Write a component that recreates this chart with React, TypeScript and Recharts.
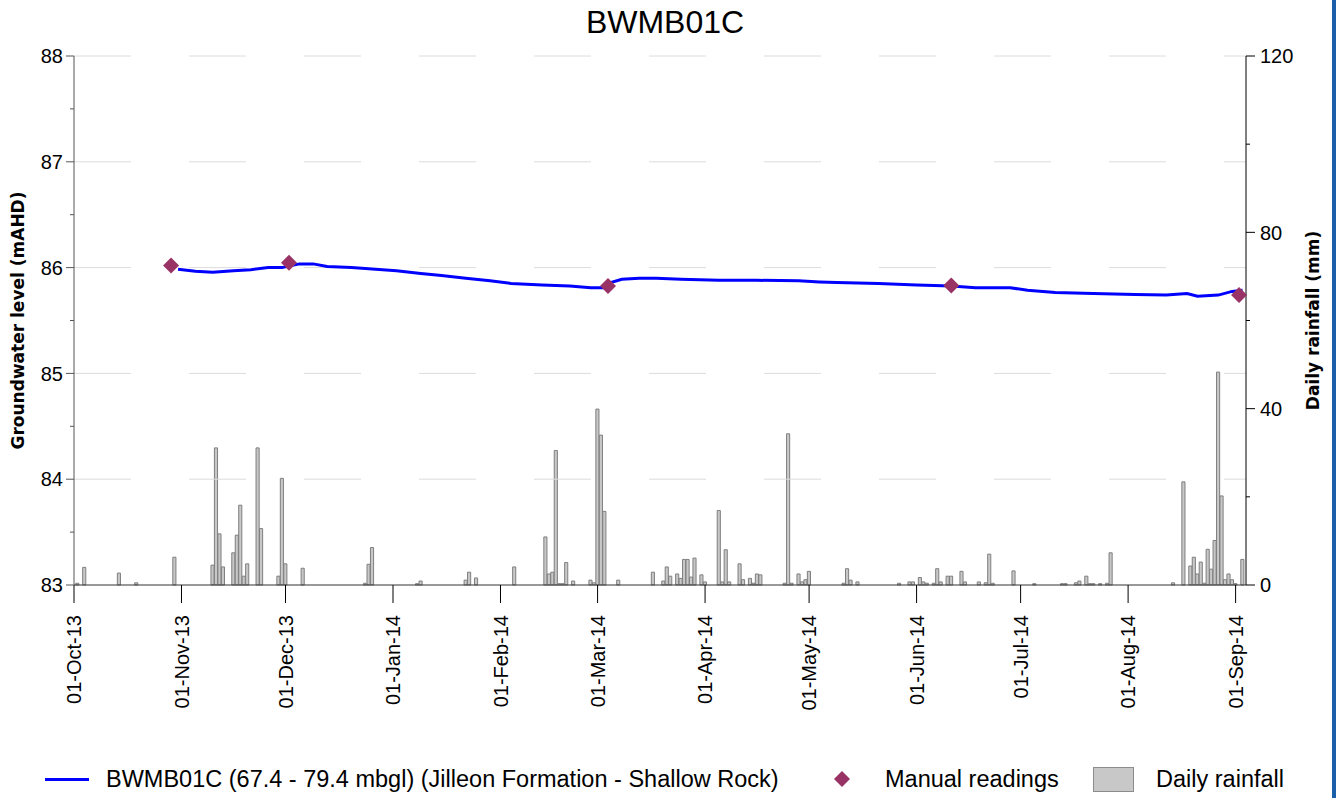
import React from 'react';
import { ComposedChart, Bar, Line, Scatter, XAxis, YAxis, ReferenceLine } from 'recharts';

// x values are days counted from 01-Oct-13 (day 0)
const monthTicks = [0, 31, 61, 92, 123, 151, 182, 212, 243, 273, 304, 335];
const monthLabels = [
  '01-Oct-13', '01-Nov-13', '01-Dec-13', '01-Jan-14', '01-Feb-14', '01-Mar-14',
  '01-Apr-14', '01-May-14', '01-Jun-14', '01-Jul-14', '01-Aug-14', '01-Sep-14',
];

const levelTicks = [83, 83.5, 84, 84.5, 85, 85.5, 86, 86.5, 87, 87.5, 88];
const rainTicks = [0, 20, 40, 60, 80, 100, 120];
const gridLevels = [84, 85, 86, 87, 88];

// daily rainfall (mm)
const rainDays = [
  1, 3, 13, 18, 29, 40, 41, 42, 43, 46, 47, 48, 49, 50, 53, 54, 59, 60, 61, 66,
  84, 85, 86, 99, 100, 113, 114, 116, 127, 136, 137, 138, 139, 140, 141, 142, 144,
  149, 150, 151, 152, 153, 157, 167, 170, 171, 172, 174, 175, 176, 177, 178, 179,
  181, 182, 186, 187, 188, 189, 192, 193, 195, 196, 197, 198, 205, 206, 207, 209,
  210, 211, 212, 222, 223, 224, 226, 238, 241, 242, 244, 245, 246, 248, 249, 250,
  252, 253, 256, 257, 261, 263, 264, 265, 271, 277, 285, 286, 289, 290, 292, 293,
  294, 296, 298, 299, 317, 320, 322, 323, 324, 325, 326, 327, 328, 329, 330, 331,
  332, 333, 334, 335, 337,
];
const rainMm = [
  0.4, 4.0, 2.7, 0.5, 6.3, 4.5, 31.1, 11.6, 4.1, 7.3, 11.3, 18.1, 2.0, 4.8, 31.1, 12.8, 2.0, 24.2, 4.8, 3.8,
  0.4, 4.7, 8.5, 0.3, 0.9, 1.1, 2.9, 1.6, 4.1, 10.9, 2.5, 2.9, 30.5, 0.3, 0.3, 5.1, 0.9,
  1.1, 0.5, 39.9, 34.0, 16.7, 1.1, 2.9, 0.9, 4.1, 2.0, 2.5, 1.5, 5.8, 5.8, 1.8, 6.1,
  2.3, 0.7, 16.9, 0.7, 8.0, 0.7, 4.8, 1.2, 1.5, 0.4, 2.5, 2.3, 0.4, 34.3, 0.4, 2.5,
  0.7, 1.2, 3.1, 0.4, 3.7, 1.1, 0.7, 0.4, 0.7, 0.7, 1.7, 0.7, 0.4, 0.4, 3.7, 0.7,
  2.0, 2.0, 3.1, 0.7, 0.7, 0.5, 7.0, 0.4, 3.2, 0.3, 0.3, 0.3, 0.5, 0.9, 2.0, 0.3,
  0.3, 0.3, 0.4, 7.3, 0.5, 23.4, 4.3, 6.3, 2.5, 5.2, 0.4, 8.1, 3.6, 10.1, 48.3, 20.2,
  1.2, 2.5, 1.2, 0.3, 5.8,
];

// logger groundwater level (mAHD)
const levelDays = [
  30, 35, 40, 46, 51, 56, 60, 65, 69, 73, 80, 87, 93, 100, 106, 113, 120, 126, 135,
  143, 149, 153, 155, 158, 163, 168, 175, 186, 197, 209, 215, 220, 232, 243, 253,
  260, 270, 275, 283, 294, 306, 315, 321, 324, 330, 334, 337,
];
const levelValues = [
  85.985, 85.965, 85.955, 85.97, 85.98, 86.0, 86.0, 86.035, 86.035, 86.01, 86.0, 85.985, 85.97, 85.945, 85.925, 85.9, 85.875, 85.85, 85.835,
  85.825, 85.81, 85.81, 85.86, 85.89, 85.9, 85.9, 85.89, 85.88, 85.88, 85.875, 85.865, 85.86, 85.85, 85.835, 85.825,
  85.81, 85.81, 85.785, 85.765, 85.755, 85.745, 85.74, 85.755, 85.73, 85.74, 85.775, 85.785,
];

// manual readings (mAHD)
const manualDays = [28, 62, 154, 253, 336];
const manualValues = [86.02, 86.045, 85.825, 85.83, 85.74];

const rainData = rainDays.map((d, i) => ({ day: d, rain: rainMm[i] }));
const levelData = levelDays.map((d, i) => ({ day: d, level: levelValues[i] }));
const manualData = manualDays.map((d, i) => ({ day: d, manual: manualValues[i] }));

const BLUE = '#0000ff';
const MAROON = '#993366';
const tickFont = { fontFamily: 'Liberation Sans, Arial, sans-serif', fontSize: 20, fill: '#000' };
const titleFont = { fontFamily: 'DejaVu Sans, Tahoma, sans-serif', fontSize: 17, fontWeight: 700, fill: '#000' };

const renderLeftTick = (props: any) => {
  const { x, y, payload } = props;
  const major = Number.isInteger(payload.value);
  return (
    <g>
      <line x1={x - (major ? 8 : 4)} x2={x} y1={y} y2={y} stroke="#555" />
      {major && (
        <text x={x - 11} y={y} dy="0.36em" textAnchor="end" {...tickFont}>
          {payload.value}
        </text>
      )}
    </g>
  );
};

const renderRightTick = (props: any) => {
  const { x, y, payload } = props;
  const major = payload.value % 40 === 0;
  return (
    <g>
      <line x1={x} x2={x + (major ? 9 : 4)} y1={y} y2={y} stroke="#000" />
      {major && (
        <text x={x + 14} y={y} dy="0.36em" textAnchor="start" {...tickFont}>
          {payload.value}
        </text>
      )}
    </g>
  );
};

const renderBottomTick = (props: any) => {
  const { x, y, payload, index } = props;
  const ty = y + 30;
  return (
    <g>
      <line x1={x} x2={x} y1={y} y2={y + 18} stroke="#000" />
      <text x={x} y={ty} dy="0.36em" textAnchor="end" transform={`rotate(-90, ${x}, ${ty})`} {...tickFont}>
        {monthLabels[index] ?? ''}
      </text>
    </g>
  );
};

const Diamond = (props: any) => {
  const { cx, cy } = props;
  const r = 8;
  return <polygon points={`${cx},${cy - r} ${cx + r},${cy} ${cx},${cy + r} ${cx - r},${cy}`} fill={MAROON} />;
};

const legendText: React.CSSProperties = {
  position: 'absolute', top: 766, lineHeight: '27px', whiteSpace: 'nowrap',
  fontFamily: 'Liberation Sans, Arial, sans-serif', fontSize: 23.5, color: '#000',
};

const App: React.FC = () => {
  return (
    <div style={{ position: 'relative', width: 1338, height: 798, background: '#fff', overflow: 'hidden' }}>
      <style>{'body{margin:0}'}</style>
      <div
        style={{
          position: 'absolute', left: 0, width: 1330, top: 4, textAlign: 'center',
          fontFamily: 'Liberation Sans, Arial, sans-serif', fontSize: 32, lineHeight: '36px', color: '#000',
        }}
      >
        BWMB01C
      </div>
      <ComposedChart
        width={1338}
        height={798}
        data={rainData}
        margin={{ top: 56, right: 0, bottom: 73, left: 0 }}
      >
        <XAxis
          dataKey="day"
          type="number"
          domain={[0, 338]}
          ticks={monthTicks}
          interval={0}
          height={140}
          tickSize={0}
          tickMargin={0}
          tick={renderBottomTick}
          axisLine={{ stroke: '#333' }}
          tickLine={false}
        />
        <YAxis
          yAxisId="left"
          orientation="left"
          domain={[83, 88]}
          ticks={levelTicks}
          interval={0}
          width={74}
          tickSize={0}
          tickMargin={0}
          tick={renderLeftTick}
          tickLine={false}
          axisLine={{ stroke: '#555' }}
          label={{
            content: (p: any) => {
              const vb = p.viewBox;
              const cx = vb.x + 18;
              const cy = vb.y + vb.height / 2;
              return (
                <text x={cx} y={cy} dy="0.36em" textAnchor="middle" transform={`rotate(-90, ${cx}, ${cy})`} {...titleFont}>
                  Groundwater level (mAHD)
                </text>
              );
            },
          }}
        />
        <YAxis
          yAxisId="right"
          orientation="right"
          domain={[0, 120]}
          ticks={rainTicks}
          interval={0}
          width={92}
          tickSize={0}
          tickMargin={0}
          tick={renderRightTick}
          tickLine={false}
          axisLine={{ stroke: '#000' }}
          label={{
            content: (p: any) => {
              const vb = p.viewBox;
              const cx = vb.x + vb.width - 25;
              const cy = vb.y + vb.height / 2;
              return (
                <text x={cx} y={cy} dy="0.36em" textAnchor="middle" transform={`rotate(-90, ${cx}, ${cy})`} {...titleFont}>
                  Daily rainfall (mm)
                </text>
              );
            },
          }}
        />
        {gridLevels.map((v) => (
          <ReferenceLine key={v} yAxisId="left" y={v} stroke="#dcdcdc" strokeDasharray="57 58" />
        ))}
        <Bar
          yAxisId="right"
          dataKey="rain"
          barSize={3.5}
          fill="#c8c8c8"
          stroke="#7f7f7f"
          strokeWidth={1}
          isAnimationActive={false}
        />
        <Line
          yAxisId="left"
          data={levelData}
          dataKey="level"
          type="linear"
          stroke={BLUE}
          strokeWidth={3}
          dot={false}
          isAnimationActive={false}
        />
        <Scatter
          yAxisId="left"
          data={manualData}
          dataKey="manual"
          shape={<Diamond />}
          isAnimationActive={false}
        />
      </ComposedChart>

      {/* legend */}
      <div style={{ position: 'absolute', left: 45, top: 778, width: 44, height: 3, background: BLUE }} />
      <span style={{ ...legendText, left: 106 }}>BWMB01C (67.4 - 79.4 mbgl) (Jilleon Formation - Shallow Rock)</span>
      <svg width={16} height={16} style={{ position: 'absolute', left: 834, top: 771 }}>
        <polygon points="8,0 16,8 8,16 0,8" fill={MAROON} />
      </svg>
      <span style={{ ...legendText, left: 885 }}>Manual readings</span>
      <div
        style={{
          position: 'absolute', left: 1093, top: 767, width: 41, height: 25,
          background: '#c8c8c8', border: '1px solid #8c8c8c', boxSizing: 'border-box',
        }}
      />
      <span style={{ ...legendText, left: 1156 }}>Daily rainfall</span>

      {/* frame edge on the right */}
      <div style={{ position: 'absolute', left: 1332, top: 0, width: 4, height: 798, background: '#1b5faa' }} />
    </div>
  );
};

export default App;
